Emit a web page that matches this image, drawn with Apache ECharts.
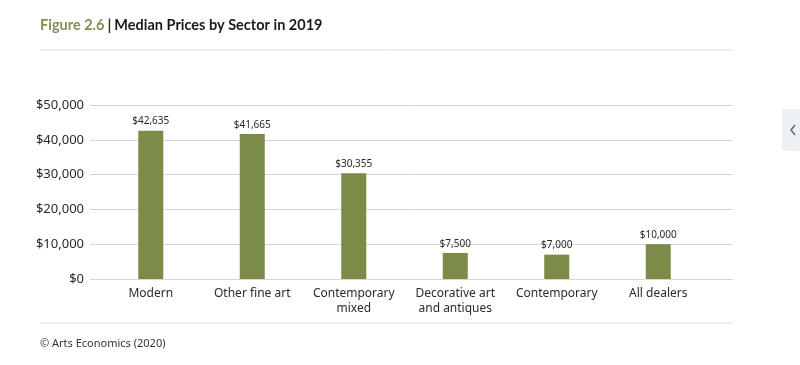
<!DOCTYPE html>
<html><head><meta charset="utf-8">
<script src="https://cdn.jsdelivr.net/npm/echarts@6/dist/echarts.min.js"></script>
<style>html,body{margin:0;padding:0;background:#fff}#c{width:800px;height:365px}</style>
</head><body><div id="c"></div>
<script>
const categories = ['Modern', 'Other fine art', 'Contemporary\nmixed', 'Decorative art\nand antiques', 'Contemporary', 'All dealers'];
const medianPrices = [42635, 41665, 30355, 7500, 7000, 10000];
const yTicks = [0, 10000, 20000, 30000, 40000, 50000];

const fmt = v => '$' + v.toLocaleString('en-US');
const chart = echarts.init(document.getElementById('c'), null, {renderer: 'canvas'});
const font = '"Noto Sans", "Open Sans", sans-serif';
const tfont = 'Lato, "Noto Sans", sans-serif';
chart.setOption({
  animation: false,
  textStyle: {fontFamily: font},
  title: {
    left: 40, top: 18, padding: 0,
    text: '{a|Figure 2.6}{b||}{c|Median Prices by Sector in 2019}',
    textStyle: {
      rich: {
        a: {color: '#7f8f55', fontSize: 14.5, fontWeight: 'bold', fontFamily: tfont},
        b: {color: '#333', fontSize: 15, fontFamily: tfont, padding: [0, 3, 0, 3]},
        c: {color: '#1a1a1a', fontSize: 14.5, fontWeight: 'bold', fontFamily: tfont}
      }
    }
  },
  grid: [
    {left: 90, width: 643, top: 105, height: 174, containLabel: false},
    {left: 100, width: 609, top: 105, height: 174, containLabel: false}
  ],
  xAxis: [
    {gridIndex: 0, type: 'value', show: false, min: 0, max: 1},
    {gridIndex: 1, type: 'category', data: categories,
     axisLine: {show: false}, axisTick: {show: false},
     axisLabel: {color: '#2a2a2a', fontSize: 12, margin: 7, lineHeight: 15, interval: 0, fontFamily: font}}
  ],
  yAxis: [
    {gridIndex: 0, type: 'value', min: yTicks[0], max: yTicks[yTicks.length - 1], interval: 10000,
     axisLine: {show: false}, axisTick: {show: false},
     axisLabel: {color: '#2a2a2a', fontSize: 13, margin: 6, formatter: v => fmt(v), fontFamily: font},
     splitLine: {show: true, lineStyle: {color: '#d6d6d6', width: 1}}},
    {gridIndex: 1, type: 'value', min: yTicks[0], max: yTicks[yTicks.length - 1], interval: 10000, show: false,
     splitLine: {show: false}}
  ],
  series: [{
    type: 'bar', xAxisIndex: 1, yAxisIndex: 1,
    data: medianPrices, barWidth: 25,
    itemStyle: {color: '#7a8c48'},
    label: {show: true, position: 'top', distance: 4, color: '#2a2a2a', fontSize: 10, formatter: p => fmt(p.value), fontFamily: font}
  }],
  graphic: [
    {type: 'line', shape: {x1: 40, y1: 50, x2: 733, y2: 50}, style: {stroke: '#dddddd', lineWidth: 1}},
    {type: 'line', shape: {x1: 40, y1: 323, x2: 733, y2: 323}, style: {stroke: '#dddddd', lineWidth: 1}},
    {type: 'text', left: 40, top: 338, style: {text: '© Arts Economics (2020)', fill: '#333', fontSize: 11, fontFamily: font}},
    {type: 'rect', shape: {x: 782, y: 109, width: 20, height: 42, r: 3}, style: {fill: '#eef0f3'}},
    {type: 'polyline', shape: {points: [[795, 125], [791, 130], [795, 135]]}, style: {stroke: '#5a6b8a', lineWidth: 1.5, fill: null}}
  ]
});
</script></body></html>
